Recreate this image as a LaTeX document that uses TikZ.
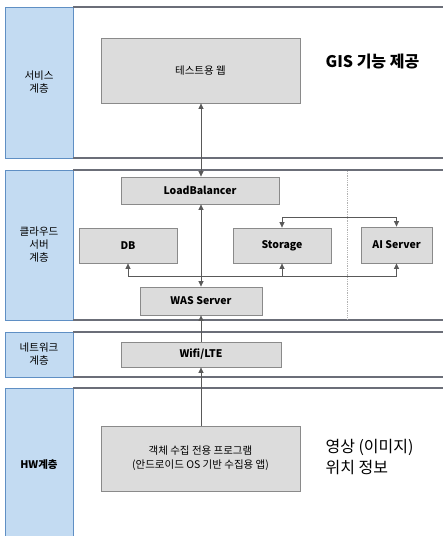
\documentclass[tikz,border=0pt]{standalone}
\usepackage{fontspec}
\setmainfont{Noto Sans CJK KR}
\usetikzlibrary{arrows.meta}

\definecolor{layerblue}{HTML}{C3DBF2}
\definecolor{layeredge}{HTML}{5F8FC4}
\definecolor{boxgray}{HTML}{DCDCDC}
\definecolor{boxedge}{HTML}{8A8A8A}
\definecolor{bandline}{HTML}{6B6E78}

\tikzset{
  layer/.style={draw=layeredge, fill=layerblue, line width=0.9pt},
  layertext/.style={font=\fontsize{10.5}{13}\selectfont, align=center},
  part/.style={draw=boxedge, fill=boxgray, line width=0.8pt, font=\fontsize{10.5}{13}\selectfont\bfseries},
  band/.style={draw=bandline, line width=1.3pt},
  link/.style={draw=gray!70!black, line width=0.7pt, arrows={-Triangle[length=5.5pt,width=5pt]}},
  twoway/.style={link, arrows={Triangle[length=5.5pt,width=5pt]-Triangle[length=5.5pt,width=5pt]}},
}

\begin{document}
\begin{tikzpicture}[x=1pt, y=-1pt]
\useasboundingbox (0,0) rectangle (443,536);

% Layer columns
\draw[layer] (5,7) rectangle (73,158);
\draw[layer] (5,170) rectangle (73,320);
\draw[layer] (5,332) rectangle (73,377);
\draw[layer] (5,388) rectangle (73,545);
\node[layertext] (svcL) at (39,82) {서비스\\계층};
\node[layertext] (cldL) at (39,245) {클라우드\\서버\\계층};
\node[layertext] (netL) at (39,354.5) {네트워크\\계층};
\node[layertext, font=\fontsize{10.5}{13}\selectfont\bfseries] (hwL) at (39,465) {HW계층};

% Layer bands
\draw[band] (73,7) -- (443,7);
\draw[band] (73,158) -- (443,158);
\draw[band] (73,170) -- (443,170);
\draw[band] (73,320) -- (443,320);
\draw[band] (73,332) -- (443,332);
\draw[band] (73,377) -- (443,377);
\draw[band] (73,388) -- (443,388);

% Dotted separator
\draw[gray!60, densely dotted, line width=0.8pt] (347,171) -- (347,319);

% Boxes
\node[part, minimum width=199pt, minimum height=65pt, font=\fontsize{10.5}{13}\selectfont] (web) at (200.5,70.5) {테스트용 웹};
\node[part, minimum width=158pt, minimum height=27pt] (lb) at (200,190.5) {LoadBalancer};
\node[part, minimum width=98pt, minimum height=35pt] (db) at (128,245.5) {DB};
\node[part, minimum width=98pt, minimum height=35pt] (sto) at (282,245.5) {Storage};
\node[part, minimum width=71pt, minimum height=36pt] (ai) at (396.5,245) {AI Server};
\node[part, minimum width=122pt, minimum height=28pt] (was) at (201,301) {WAS Server};
\node[part, minimum width=160pt, minimum height=25pt] (wifi) at (201,354.5) {Wifi/LTE};
\node[part, minimum width=199pt, minimum height=65pt, align=center, font=\fontsize{10.5}{14}\selectfont] (app) at (200.5,458.5) {객체 수집 전용 프로그램\\(안드로이드 OS 기반 수집용 앱)};

% Side notes
\node[anchor=west, font=\fontsize{16}{18}\selectfont\bfseries] (gis) at (322,62) {GIS 기능 제공};
\node[anchor=west, align=left, font=\fontsize{16}{21}\selectfont] (info) at (322,457) {영상 (이미지)\\위치 정보};

% Connectors
\coordinate (bus) at (0,276);
\coordinate (top) at (0,217);
\draw[twoway] (lb.north -| 201,0) -- (web.south -| 201,0);
\draw[twoway] (lb.south -| 201,0) -- (was.north -| 201,0);
\draw[link] (wifi.north) -- (was.south);
\draw[link] (app.north -| 201,0) -- (wifi.south);
\draw[gray!70!black, line width=0.7pt] (db.south |- bus) -- (ai.south |- bus);
\draw[link] (db.south |- bus) -- (db.south);
\draw[link] (sto.south |- bus) -- (sto.south);
\draw[link] (ai.south |- bus) -- (ai.south);
\draw[gray!70!black, line width=0.7pt] (sto.north |- top) -- (ai.north |- top);
\draw[link] (sto.north |- top) -- (sto.north);
\draw[link] (ai.north |- top) -- (ai.north);
\end{tikzpicture}
\end{document}
